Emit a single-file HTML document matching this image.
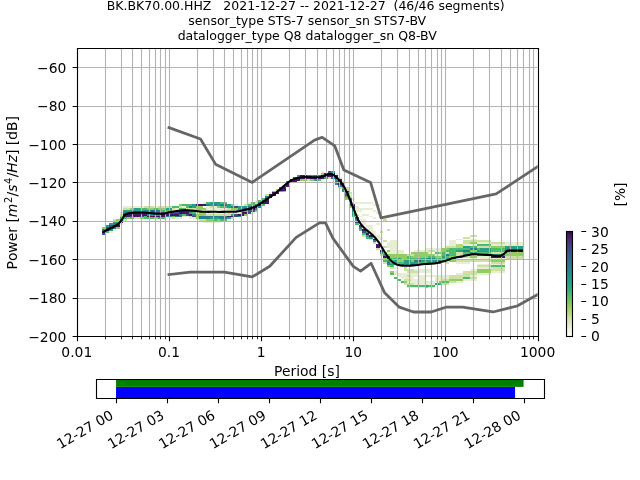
<!DOCTYPE html><html><head><meta charset="utf-8"><style>html,body{margin:0;padding:0;background:#fff}svg{display:block;will-change:transform}text{font-family:"DejaVu Sans","Liberation Sans",sans-serif;fill:#000}</style></head><body>
<svg width="640" height="480" viewBox="0 0 640 480">
<rect width="640" height="480" fill="#fff"/>
<defs><clipPath id="ax"><rect x="76.8" y="48" width="460.8" height="288"/></clipPath></defs>
<g shape-rendering="crispEdges">
<rect x="102" y="233" width="4" height="2" fill="#3c4f8a"/>
<rect x="102" y="231" width="4" height="2" fill="#461466"/>
<rect x="102" y="229" width="4" height="2" fill="#277f8d"/>
<rect x="102" y="227" width="4" height="2" fill="#91cd60"/>
<rect x="106" y="231" width="3" height="2" fill="#4cbb6c"/>
<rect x="106" y="229" width="3" height="2" fill="#461466"/>
<rect x="106" y="227" width="3" height="2" fill="#3c4f8a"/>
<rect x="106" y="225" width="3" height="2" fill="#259f85"/>
<rect x="109" y="231" width="4" height="2" fill="#e6eed3"/>
<rect x="109" y="229" width="4" height="2" fill="#259f85"/>
<rect x="109" y="227" width="4" height="2" fill="#461466"/>
<rect x="109" y="225" width="4" height="2" fill="#3c4f8a"/>
<rect x="109" y="223" width="4" height="2" fill="#259f85"/>
<rect x="113" y="229" width="3" height="2" fill="#e6eed3"/>
<rect x="113" y="227" width="3" height="2" fill="#277f8d"/>
<rect x="113" y="225" width="3" height="2" fill="#461466"/>
<rect x="113" y="223" width="3" height="2" fill="#277f8d"/>
<rect x="113" y="221" width="3" height="2" fill="#259f85"/>
<rect x="113" y="219" width="3" height="2" fill="#cde1a5"/>
<rect x="116" y="227" width="4" height="2" fill="#91cd60"/>
<rect x="116" y="225" width="4" height="2" fill="#461466"/>
<rect x="116" y="223" width="4" height="2" fill="#3c4f8a"/>
<rect x="116" y="221" width="4" height="2" fill="#259f85"/>
<rect x="116" y="219" width="4" height="2" fill="#91cd60"/>
<rect x="120" y="223" width="3" height="2" fill="#e6eed3"/>
<rect x="120" y="221" width="3" height="2" fill="#461466"/>
<rect x="120" y="219" width="3" height="2" fill="#277f8d"/>
<rect x="120" y="217" width="3" height="2" fill="#259f85"/>
<rect x="120" y="216" width="3" height="1" fill="#91cd60"/>
<rect x="120" y="214" width="3" height="2" fill="#cde1a5"/>
<rect x="120" y="212" width="3" height="2" fill="#e6eed3"/>
<rect x="123" y="219" width="4" height="2" fill="#cde1a5"/>
<rect x="123" y="217" width="4" height="2" fill="#4cbb6c"/>
<rect x="123" y="216" width="4" height="1" fill="#461466"/>
<rect x="123" y="214" width="4" height="2" fill="#461466"/>
<rect x="123" y="212" width="4" height="2" fill="#277f8d"/>
<rect x="123" y="210" width="4" height="2" fill="#259f85"/>
<rect x="123" y="208" width="4" height="2" fill="#cde1a5"/>
<rect x="123" y="206" width="4" height="2" fill="#e6eed3"/>
<rect x="127" y="217" width="3" height="2" fill="#91cd60"/>
<rect x="127" y="216" width="3" height="1" fill="#461466"/>
<rect x="127" y="214" width="3" height="2" fill="#461466"/>
<rect x="127" y="212" width="3" height="2" fill="#277f8d"/>
<rect x="127" y="210" width="3" height="2" fill="#259f85"/>
<rect x="127" y="208" width="3" height="2" fill="#cde1a5"/>
<rect x="127" y="206" width="3" height="2" fill="#e6eed3"/>
<rect x="130" y="217" width="4" height="2" fill="#4cbb6c"/>
<rect x="130" y="216" width="4" height="1" fill="#3c4f8a"/>
<rect x="130" y="214" width="4" height="2" fill="#461466"/>
<rect x="130" y="212" width="4" height="2" fill="#259f85"/>
<rect x="130" y="210" width="4" height="2" fill="#259f85"/>
<rect x="130" y="208" width="4" height="2" fill="#91cd60"/>
<rect x="130" y="206" width="4" height="2" fill="#e6eed3"/>
<rect x="134" y="217" width="3" height="2" fill="#cde1a5"/>
<rect x="134" y="216" width="3" height="1" fill="#461466"/>
<rect x="134" y="214" width="3" height="2" fill="#461466"/>
<rect x="134" y="212" width="3" height="2" fill="#277f8d"/>
<rect x="134" y="210" width="3" height="2" fill="#259f85"/>
<rect x="134" y="208" width="3" height="2" fill="#259f85"/>
<rect x="134" y="206" width="3" height="2" fill="#e6eed3"/>
<rect x="137" y="217" width="3" height="2" fill="#cde1a5"/>
<rect x="137" y="216" width="3" height="1" fill="#461466"/>
<rect x="137" y="214" width="3" height="2" fill="#461466"/>
<rect x="137" y="212" width="3" height="2" fill="#277f8d"/>
<rect x="137" y="210" width="3" height="2" fill="#259f85"/>
<rect x="137" y="208" width="3" height="2" fill="#259f85"/>
<rect x="137" y="206" width="3" height="2" fill="#e6eed3"/>
<rect x="140" y="217" width="4" height="2" fill="#91cd60"/>
<rect x="140" y="216" width="4" height="1" fill="#3c4f8a"/>
<rect x="140" y="214" width="4" height="2" fill="#461466"/>
<rect x="140" y="212" width="4" height="2" fill="#277f8d"/>
<rect x="140" y="210" width="4" height="2" fill="#259f85"/>
<rect x="140" y="208" width="4" height="2" fill="#4cbb6c"/>
<rect x="140" y="206" width="4" height="2" fill="#e6eed3"/>
<rect x="144" y="217" width="3" height="2" fill="#4cbb6c"/>
<rect x="144" y="216" width="3" height="1" fill="#4cbb6c"/>
<rect x="144" y="214" width="3" height="2" fill="#461466"/>
<rect x="144" y="212" width="3" height="2" fill="#3c4f8a"/>
<rect x="144" y="210" width="3" height="2" fill="#277f8d"/>
<rect x="144" y="208" width="3" height="2" fill="#4cbb6c"/>
<rect x="144" y="206" width="3" height="2" fill="#cde1a5"/>
<rect x="147" y="217" width="4" height="2" fill="#4cbb6c"/>
<rect x="147" y="216" width="4" height="1" fill="#461466"/>
<rect x="147" y="214" width="4" height="2" fill="#277f8d"/>
<rect x="147" y="212" width="4" height="2" fill="#3c4f8a"/>
<rect x="147" y="210" width="4" height="2" fill="#277f8d"/>
<rect x="147" y="208" width="4" height="2" fill="#91cd60"/>
<rect x="147" y="206" width="4" height="2" fill="#cde1a5"/>
<rect x="151" y="217" width="3" height="2" fill="#4cbb6c"/>
<rect x="151" y="216" width="3" height="1" fill="#461466"/>
<rect x="151" y="214" width="3" height="2" fill="#259f85"/>
<rect x="151" y="212" width="3" height="2" fill="#3c4f8a"/>
<rect x="151" y="210" width="3" height="2" fill="#3c4f8a"/>
<rect x="151" y="208" width="3" height="2" fill="#91cd60"/>
<rect x="151" y="206" width="3" height="2" fill="#cde1a5"/>
<rect x="154" y="217" width="4" height="2" fill="#91cd60"/>
<rect x="154" y="216" width="4" height="1" fill="#461466"/>
<rect x="154" y="214" width="4" height="2" fill="#259f85"/>
<rect x="154" y="212" width="4" height="2" fill="#3c4f8a"/>
<rect x="154" y="210" width="4" height="2" fill="#277f8d"/>
<rect x="154" y="208" width="4" height="2" fill="#4cbb6c"/>
<rect x="154" y="206" width="4" height="2" fill="#e6eed3"/>
<rect x="158" y="217" width="3" height="2" fill="#259f85"/>
<rect x="158" y="216" width="3" height="1" fill="#461466"/>
<rect x="158" y="214" width="3" height="2" fill="#259f85"/>
<rect x="158" y="212" width="3" height="2" fill="#3c4f8a"/>
<rect x="158" y="210" width="3" height="2" fill="#277f8d"/>
<rect x="158" y="208" width="3" height="2" fill="#91cd60"/>
<rect x="158" y="206" width="3" height="2" fill="#cde1a5"/>
<rect x="161" y="217" width="4" height="2" fill="#4cbb6c"/>
<rect x="161" y="216" width="4" height="1" fill="#461466"/>
<rect x="161" y="214" width="4" height="2" fill="#461466"/>
<rect x="161" y="212" width="4" height="2" fill="#3c4f8a"/>
<rect x="161" y="210" width="4" height="2" fill="#4cbb6c"/>
<rect x="161" y="208" width="4" height="2" fill="#91cd60"/>
<rect x="161" y="206" width="4" height="2" fill="#cde1a5"/>
<rect x="165" y="217" width="3" height="2" fill="#e6eed3"/>
<rect x="165" y="216" width="3" height="1" fill="#277f8d"/>
<rect x="165" y="214" width="3" height="2" fill="#461466"/>
<rect x="165" y="212" width="3" height="2" fill="#3c4f8a"/>
<rect x="165" y="210" width="3" height="2" fill="#4cbb6c"/>
<rect x="165" y="208" width="3" height="2" fill="#259f85"/>
<rect x="165" y="206" width="3" height="2" fill="#cde1a5"/>
<rect x="168" y="217" width="4" height="2" fill="#e6eed3"/>
<rect x="168" y="216" width="4" height="1" fill="#277f8d"/>
<rect x="168" y="214" width="4" height="2" fill="#461466"/>
<rect x="168" y="212" width="4" height="2" fill="#3c4f8a"/>
<rect x="168" y="210" width="4" height="2" fill="#4cbb6c"/>
<rect x="168" y="208" width="4" height="2" fill="#259f85"/>
<rect x="168" y="206" width="4" height="2" fill="#cde1a5"/>
<rect x="172" y="217" width="3" height="2" fill="#cde1a5"/>
<rect x="172" y="216" width="3" height="1" fill="#4cbb6c"/>
<rect x="172" y="214" width="3" height="2" fill="#461466"/>
<rect x="172" y="212" width="3" height="2" fill="#3c4f8a"/>
<rect x="172" y="210" width="3" height="2" fill="#e6eed3"/>
<rect x="172" y="208" width="3" height="2" fill="#cde1a5"/>
<rect x="172" y="206" width="3" height="2" fill="#4cbb6c"/>
<rect x="175" y="217" width="4" height="2" fill="#e6eed3"/>
<rect x="175" y="216" width="4" height="1" fill="#277f8d"/>
<rect x="175" y="214" width="4" height="2" fill="#461466"/>
<rect x="175" y="212" width="4" height="2" fill="#3c4f8a"/>
<rect x="175" y="210" width="4" height="2" fill="#e6eed3"/>
<rect x="175" y="208" width="4" height="2" fill="#e6eed3"/>
<rect x="175" y="206" width="4" height="2" fill="#4cbb6c"/>
<rect x="179" y="217" width="3" height="2" fill="#e6eed3"/>
<rect x="179" y="216" width="3" height="1" fill="#277f8d"/>
<rect x="179" y="214" width="3" height="2" fill="#277f8d"/>
<rect x="179" y="212" width="3" height="2" fill="#461466"/>
<rect x="179" y="210" width="3" height="2" fill="#3c4f8a"/>
<rect x="179" y="208" width="3" height="2" fill="#4cbb6c"/>
<rect x="179" y="206" width="3" height="2" fill="#cde1a5"/>
<rect x="179" y="204" width="3" height="2" fill="#91cd60"/>
<rect x="182" y="216" width="4" height="1" fill="#e6eed3"/>
<rect x="182" y="214" width="4" height="2" fill="#4cbb6c"/>
<rect x="182" y="212" width="4" height="2" fill="#461466"/>
<rect x="182" y="210" width="4" height="2" fill="#3c4f8a"/>
<rect x="182" y="208" width="4" height="2" fill="#4cbb6c"/>
<rect x="182" y="206" width="4" height="2" fill="#e6eed3"/>
<rect x="182" y="204" width="4" height="2" fill="#4cbb6c"/>
<rect x="186" y="216" width="3" height="1" fill="#e6eed3"/>
<rect x="186" y="214" width="3" height="2" fill="#3c4f8a"/>
<rect x="186" y="212" width="3" height="2" fill="#461466"/>
<rect x="186" y="210" width="3" height="2" fill="#3c4f8a"/>
<rect x="186" y="208" width="3" height="2" fill="#cde1a5"/>
<rect x="186" y="206" width="3" height="2" fill="#4cbb6c"/>
<rect x="186" y="204" width="3" height="2" fill="#4cbb6c"/>
<rect x="189" y="217" width="3" height="2" fill="#e6eed3"/>
<rect x="189" y="216" width="3" height="1" fill="#cde1a5"/>
<rect x="189" y="214" width="3" height="2" fill="#461466"/>
<rect x="189" y="212" width="3" height="2" fill="#259f85"/>
<rect x="189" y="210" width="3" height="2" fill="#3c4f8a"/>
<rect x="189" y="208" width="3" height="2" fill="#cde1a5"/>
<rect x="189" y="206" width="3" height="2" fill="#277f8d"/>
<rect x="189" y="204" width="3" height="2" fill="#4cbb6c"/>
<rect x="192" y="217" width="4" height="2" fill="#e6eed3"/>
<rect x="192" y="216" width="4" height="1" fill="#3c4f8a"/>
<rect x="192" y="214" width="4" height="2" fill="#277f8d"/>
<rect x="192" y="212" width="4" height="2" fill="#4cbb6c"/>
<rect x="192" y="210" width="4" height="2" fill="#277f8d"/>
<rect x="192" y="208" width="4" height="2" fill="#cde1a5"/>
<rect x="192" y="206" width="4" height="2" fill="#259f85"/>
<rect x="192" y="204" width="4" height="2" fill="#259f85"/>
<rect x="196" y="217" width="3" height="2" fill="#91cd60"/>
<rect x="196" y="216" width="3" height="1" fill="#91cd60"/>
<rect x="196" y="214" width="3" height="2" fill="#91cd60"/>
<rect x="196" y="212" width="3" height="2" fill="#e6eed3"/>
<rect x="196" y="210" width="3" height="2" fill="#e6eed3"/>
<rect x="196" y="208" width="3" height="2" fill="#91cd60"/>
<rect x="196" y="206" width="3" height="2" fill="#91cd60"/>
<rect x="196" y="204" width="3" height="2" fill="#461466"/>
<rect x="199" y="219" width="4" height="2" fill="#cde1a5"/>
<rect x="199" y="217" width="4" height="2" fill="#277f8d"/>
<rect x="199" y="216" width="4" height="1" fill="#277f8d"/>
<rect x="199" y="214" width="4" height="2" fill="#91cd60"/>
<rect x="199" y="212" width="4" height="2" fill="#91cd60"/>
<rect x="199" y="210" width="4" height="2" fill="#e6eed3"/>
<rect x="199" y="208" width="4" height="2" fill="#91cd60"/>
<rect x="199" y="206" width="4" height="2" fill="#91cd60"/>
<rect x="199" y="204" width="4" height="2" fill="#461466"/>
<rect x="203" y="221" width="3" height="2" fill="#e6eed3"/>
<rect x="203" y="219" width="3" height="2" fill="#cde1a5"/>
<rect x="203" y="217" width="3" height="2" fill="#277f8d"/>
<rect x="203" y="216" width="3" height="1" fill="#277f8d"/>
<rect x="203" y="214" width="3" height="2" fill="#91cd60"/>
<rect x="203" y="212" width="3" height="2" fill="#91cd60"/>
<rect x="203" y="210" width="3" height="2" fill="#e6eed3"/>
<rect x="203" y="208" width="3" height="2" fill="#91cd60"/>
<rect x="203" y="204" width="3" height="2" fill="#461466"/>
<rect x="203" y="202" width="3" height="2" fill="#e6eed3"/>
<rect x="206" y="221" width="4" height="2" fill="#e6eed3"/>
<rect x="206" y="219" width="4" height="2" fill="#91cd60"/>
<rect x="206" y="217" width="4" height="2" fill="#277f8d"/>
<rect x="206" y="216" width="4" height="1" fill="#277f8d"/>
<rect x="206" y="214" width="4" height="2" fill="#cde1a5"/>
<rect x="206" y="212" width="4" height="2" fill="#e6eed3"/>
<rect x="206" y="210" width="4" height="2" fill="#e6eed3"/>
<rect x="206" y="208" width="4" height="2" fill="#e6eed3"/>
<rect x="206" y="206" width="4" height="2" fill="#e6eed3"/>
<rect x="206" y="204" width="4" height="2" fill="#277f8d"/>
<rect x="206" y="202" width="4" height="2" fill="#4cbb6c"/>
<rect x="210" y="221" width="3" height="2" fill="#e6eed3"/>
<rect x="210" y="219" width="3" height="2" fill="#91cd60"/>
<rect x="210" y="217" width="3" height="2" fill="#259f85"/>
<rect x="210" y="216" width="3" height="1" fill="#277f8d"/>
<rect x="210" y="214" width="3" height="2" fill="#cde1a5"/>
<rect x="210" y="212" width="3" height="2" fill="#e6eed3"/>
<rect x="210" y="210" width="3" height="2" fill="#e6eed3"/>
<rect x="210" y="208" width="3" height="2" fill="#e6eed3"/>
<rect x="210" y="206" width="3" height="2" fill="#cde1a5"/>
<rect x="210" y="204" width="3" height="2" fill="#259f85"/>
<rect x="210" y="202" width="3" height="2" fill="#259f85"/>
<rect x="213" y="221" width="4" height="2" fill="#e6eed3"/>
<rect x="213" y="219" width="4" height="2" fill="#4cbb6c"/>
<rect x="213" y="217" width="4" height="2" fill="#259f85"/>
<rect x="213" y="216" width="4" height="1" fill="#277f8d"/>
<rect x="213" y="214" width="4" height="2" fill="#cde1a5"/>
<rect x="213" y="212" width="4" height="2" fill="#e6eed3"/>
<rect x="213" y="210" width="4" height="2" fill="#e6eed3"/>
<rect x="213" y="208" width="4" height="2" fill="#e6eed3"/>
<rect x="213" y="206" width="4" height="2" fill="#e6eed3"/>
<rect x="213" y="204" width="4" height="2" fill="#277f8d"/>
<rect x="213" y="202" width="4" height="2" fill="#259f85"/>
<rect x="217" y="221" width="3" height="2" fill="#e6eed3"/>
<rect x="217" y="219" width="3" height="2" fill="#91cd60"/>
<rect x="217" y="217" width="3" height="2" fill="#259f85"/>
<rect x="217" y="216" width="3" height="1" fill="#277f8d"/>
<rect x="217" y="214" width="3" height="2" fill="#cde1a5"/>
<rect x="217" y="212" width="3" height="2" fill="#e6eed3"/>
<rect x="217" y="210" width="3" height="2" fill="#e6eed3"/>
<rect x="217" y="208" width="3" height="2" fill="#e6eed3"/>
<rect x="217" y="206" width="3" height="2" fill="#91cd60"/>
<rect x="217" y="204" width="3" height="2" fill="#259f85"/>
<rect x="217" y="202" width="3" height="2" fill="#259f85"/>
<rect x="220" y="219" width="4" height="2" fill="#4cbb6c"/>
<rect x="220" y="217" width="4" height="2" fill="#277f8d"/>
<rect x="220" y="216" width="4" height="1" fill="#277f8d"/>
<rect x="220" y="214" width="4" height="2" fill="#cde1a5"/>
<rect x="220" y="212" width="4" height="2" fill="#e6eed3"/>
<rect x="220" y="210" width="4" height="2" fill="#e6eed3"/>
<rect x="220" y="208" width="4" height="2" fill="#e6eed3"/>
<rect x="220" y="206" width="4" height="2" fill="#4cbb6c"/>
<rect x="220" y="204" width="4" height="2" fill="#277f8d"/>
<rect x="220" y="202" width="4" height="2" fill="#4cbb6c"/>
<rect x="224" y="219" width="3" height="2" fill="#4cbb6c"/>
<rect x="224" y="217" width="3" height="2" fill="#277f8d"/>
<rect x="224" y="216" width="3" height="1" fill="#277f8d"/>
<rect x="224" y="214" width="3" height="2" fill="#cde1a5"/>
<rect x="224" y="212" width="3" height="2" fill="#e6eed3"/>
<rect x="224" y="210" width="3" height="2" fill="#e6eed3"/>
<rect x="224" y="208" width="3" height="2" fill="#e6eed3"/>
<rect x="224" y="206" width="3" height="2" fill="#4cbb6c"/>
<rect x="224" y="204" width="3" height="2" fill="#277f8d"/>
<rect x="224" y="202" width="3" height="2" fill="#4cbb6c"/>
<rect x="227" y="219" width="4" height="2" fill="#e6eed3"/>
<rect x="227" y="217" width="4" height="2" fill="#259f85"/>
<rect x="227" y="216" width="4" height="1" fill="#461466"/>
<rect x="227" y="214" width="4" height="2" fill="#cde1a5"/>
<rect x="227" y="212" width="4" height="2" fill="#cde1a5"/>
<rect x="227" y="210" width="4" height="2" fill="#cde1a5"/>
<rect x="227" y="208" width="4" height="2" fill="#cde1a5"/>
<rect x="227" y="206" width="4" height="2" fill="#259f85"/>
<rect x="227" y="204" width="4" height="2" fill="#259f85"/>
<rect x="231" y="217" width="3" height="2" fill="#cde1a5"/>
<rect x="231" y="216" width="3" height="1" fill="#461466"/>
<rect x="231" y="214" width="3" height="2" fill="#259f85"/>
<rect x="231" y="212" width="3" height="2" fill="#e6eed3"/>
<rect x="231" y="210" width="3" height="2" fill="#cde1a5"/>
<rect x="231" y="208" width="3" height="2" fill="#91cd60"/>
<rect x="231" y="206" width="3" height="2" fill="#277f8d"/>
<rect x="231" y="204" width="3" height="2" fill="#91cd60"/>
<rect x="234" y="216" width="4" height="1" fill="#3c4f8a"/>
<rect x="234" y="214" width="4" height="2" fill="#3c4f8a"/>
<rect x="234" y="212" width="4" height="2" fill="#e6eed3"/>
<rect x="234" y="210" width="4" height="2" fill="#cde1a5"/>
<rect x="234" y="208" width="4" height="2" fill="#91cd60"/>
<rect x="234" y="206" width="4" height="2" fill="#3c4f8a"/>
<rect x="234" y="204" width="4" height="2" fill="#e6eed3"/>
<rect x="238" y="216" width="3" height="1" fill="#259f85"/>
<rect x="238" y="214" width="3" height="2" fill="#461466"/>
<rect x="238" y="212" width="3" height="2" fill="#e6eed3"/>
<rect x="238" y="210" width="3" height="2" fill="#277f8d"/>
<rect x="238" y="208" width="3" height="2" fill="#259f85"/>
<rect x="238" y="206" width="3" height="2" fill="#259f85"/>
<rect x="241" y="214" width="3" height="2" fill="#461466"/>
<rect x="241" y="212" width="3" height="2" fill="#461466"/>
<rect x="241" y="210" width="3" height="2" fill="#259f85"/>
<rect x="241" y="208" width="3" height="2" fill="#277f8d"/>
<rect x="241" y="206" width="3" height="2" fill="#259f85"/>
<rect x="244" y="214" width="4" height="2" fill="#91cd60"/>
<rect x="244" y="212" width="4" height="2" fill="#461466"/>
<rect x="244" y="210" width="4" height="2" fill="#4cbb6c"/>
<rect x="244" y="208" width="4" height="2" fill="#3c4f8a"/>
<rect x="244" y="206" width="4" height="2" fill="#259f85"/>
<rect x="244" y="204" width="4" height="2" fill="#cde1a5"/>
<rect x="248" y="212" width="3" height="2" fill="#3c4f8a"/>
<rect x="248" y="210" width="3" height="2" fill="#3c4f8a"/>
<rect x="248" y="208" width="3" height="2" fill="#461466"/>
<rect x="248" y="206" width="3" height="2" fill="#277f8d"/>
<rect x="248" y="204" width="3" height="2" fill="#4cbb6c"/>
<rect x="248" y="202" width="3" height="2" fill="#e6eed3"/>
<rect x="251" y="212" width="4" height="2" fill="#e6eed3"/>
<rect x="251" y="210" width="4" height="2" fill="#3c4f8a"/>
<rect x="251" y="208" width="4" height="2" fill="#461466"/>
<rect x="251" y="206" width="4" height="2" fill="#461466"/>
<rect x="251" y="204" width="4" height="2" fill="#4cbb6c"/>
<rect x="251" y="202" width="4" height="2" fill="#4cbb6c"/>
<rect x="255" y="210" width="3" height="2" fill="#91cd60"/>
<rect x="255" y="208" width="3" height="2" fill="#277f8d"/>
<rect x="255" y="206" width="3" height="2" fill="#461466"/>
<rect x="255" y="204" width="3" height="2" fill="#259f85"/>
<rect x="255" y="202" width="3" height="2" fill="#cde1a5"/>
<rect x="255" y="200" width="3" height="2" fill="#e6eed3"/>
<rect x="258" y="206" width="4" height="2" fill="#277f8d"/>
<rect x="258" y="204" width="4" height="2" fill="#461466"/>
<rect x="258" y="202" width="4" height="2" fill="#277f8d"/>
<rect x="258" y="200" width="4" height="2" fill="#4cbb6c"/>
<rect x="262" y="204" width="3" height="2" fill="#4cbb6c"/>
<rect x="262" y="202" width="3" height="2" fill="#461466"/>
<rect x="262" y="200" width="3" height="2" fill="#3c4f8a"/>
<rect x="262" y="198" width="3" height="2" fill="#4cbb6c"/>
<rect x="265" y="202" width="4" height="2" fill="#461466"/>
<rect x="265" y="200" width="4" height="2" fill="#461466"/>
<rect x="265" y="198" width="4" height="2" fill="#461466"/>
<rect x="265" y="196" width="4" height="2" fill="#277f8d"/>
<rect x="265" y="194" width="4" height="2" fill="#cde1a5"/>
<rect x="269" y="196" width="3" height="2" fill="#461466"/>
<rect x="269" y="194" width="3" height="2" fill="#461466"/>
<rect x="269" y="192" width="3" height="2" fill="#e6eed3"/>
<rect x="272" y="194" width="4" height="2" fill="#461466"/>
<rect x="272" y="192" width="4" height="2" fill="#461466"/>
<rect x="272" y="191" width="4" height="1" fill="#91cd60"/>
<rect x="276" y="192" width="3" height="2" fill="#461466"/>
<rect x="276" y="191" width="3" height="1" fill="#461466"/>
<rect x="276" y="189" width="3" height="2" fill="#91cd60"/>
<rect x="279" y="191" width="4" height="1" fill="#4cbb6c"/>
<rect x="279" y="189" width="4" height="2" fill="#461466"/>
<rect x="279" y="187" width="4" height="2" fill="#277f8d"/>
<rect x="283" y="191" width="3" height="1" fill="#91cd60"/>
<rect x="283" y="189" width="3" height="2" fill="#461466"/>
<rect x="283" y="187" width="3" height="2" fill="#461466"/>
<rect x="283" y="185" width="3" height="2" fill="#277f8d"/>
<rect x="286" y="185" width="4" height="2" fill="#461466"/>
<rect x="286" y="183" width="4" height="2" fill="#461466"/>
<rect x="286" y="181" width="4" height="2" fill="#259f85"/>
<rect x="290" y="181" width="3" height="2" fill="#461466"/>
<rect x="290" y="179" width="3" height="2" fill="#3c4f8a"/>
<rect x="293" y="181" width="4" height="2" fill="#461466"/>
<rect x="293" y="179" width="4" height="2" fill="#461466"/>
<rect x="293" y="177" width="4" height="2" fill="#3c4f8a"/>
<rect x="297" y="179" width="3" height="2" fill="#461466"/>
<rect x="297" y="177" width="3" height="2" fill="#461466"/>
<rect x="297" y="175" width="3" height="2" fill="#259f85"/>
<rect x="300" y="179" width="3" height="2" fill="#91cd60"/>
<rect x="300" y="177" width="3" height="2" fill="#461466"/>
<rect x="300" y="175" width="3" height="2" fill="#461466"/>
<rect x="303" y="179" width="4" height="2" fill="#91cd60"/>
<rect x="303" y="177" width="4" height="2" fill="#461466"/>
<rect x="303" y="175" width="4" height="2" fill="#461466"/>
<rect x="307" y="179" width="3" height="2" fill="#cde1a5"/>
<rect x="307" y="177" width="3" height="2" fill="#461466"/>
<rect x="307" y="175" width="3" height="2" fill="#277f8d"/>
<rect x="310" y="179" width="4" height="2" fill="#91cd60"/>
<rect x="310" y="177" width="4" height="2" fill="#461466"/>
<rect x="310" y="175" width="4" height="2" fill="#259f85"/>
<rect x="314" y="179" width="3" height="2" fill="#259f85"/>
<rect x="314" y="177" width="3" height="2" fill="#461466"/>
<rect x="314" y="175" width="3" height="2" fill="#277f8d"/>
<rect x="317" y="179" width="4" height="2" fill="#4cbb6c"/>
<rect x="317" y="177" width="4" height="2" fill="#461466"/>
<rect x="317" y="175" width="4" height="2" fill="#277f8d"/>
<rect x="321" y="179" width="3" height="2" fill="#e6eed3"/>
<rect x="321" y="177" width="3" height="2" fill="#461466"/>
<rect x="321" y="175" width="3" height="2" fill="#461466"/>
<rect x="321" y="173" width="3" height="2" fill="#91cd60"/>
<rect x="321" y="171" width="3" height="2" fill="#e6eed3"/>
<rect x="324" y="177" width="4" height="2" fill="#259f85"/>
<rect x="324" y="175" width="4" height="2" fill="#461466"/>
<rect x="324" y="173" width="4" height="2" fill="#461466"/>
<rect x="328" y="177" width="3" height="2" fill="#cde1a5"/>
<rect x="328" y="175" width="3" height="2" fill="#461466"/>
<rect x="328" y="173" width="3" height="2" fill="#461466"/>
<rect x="328" y="171" width="3" height="2" fill="#3c4f8a"/>
<rect x="331" y="177" width="4" height="2" fill="#277f8d"/>
<rect x="331" y="175" width="4" height="2" fill="#461466"/>
<rect x="331" y="173" width="4" height="2" fill="#461466"/>
<rect x="331" y="171" width="4" height="2" fill="#259f85"/>
<rect x="335" y="183" width="3" height="2" fill="#277f8d"/>
<rect x="335" y="181" width="3" height="2" fill="#277f8d"/>
<rect x="335" y="179" width="3" height="2" fill="#259f85"/>
<rect x="335" y="177" width="3" height="2" fill="#461466"/>
<rect x="335" y="175" width="3" height="2" fill="#461466"/>
<rect x="335" y="173" width="3" height="2" fill="#e6eed3"/>
<rect x="338" y="187" width="4" height="2" fill="#cde1a5"/>
<rect x="338" y="185" width="4" height="2" fill="#277f8d"/>
<rect x="338" y="183" width="4" height="2" fill="#461466"/>
<rect x="338" y="181" width="4" height="2" fill="#461466"/>
<rect x="338" y="179" width="4" height="2" fill="#461466"/>
<rect x="338" y="177" width="4" height="2" fill="#e6eed3"/>
<rect x="342" y="191" width="3" height="1" fill="#259f85"/>
<rect x="342" y="189" width="3" height="2" fill="#277f8d"/>
<rect x="342" y="187" width="3" height="2" fill="#4cbb6c"/>
<rect x="342" y="185" width="3" height="2" fill="#461466"/>
<rect x="342" y="183" width="3" height="2" fill="#461466"/>
<rect x="342" y="181" width="3" height="2" fill="#cde1a5"/>
<rect x="345" y="198" width="4" height="2" fill="#91cd60"/>
<rect x="345" y="196" width="4" height="2" fill="#4cbb6c"/>
<rect x="345" y="194" width="4" height="2" fill="#3c4f8a"/>
<rect x="345" y="192" width="4" height="2" fill="#259f85"/>
<rect x="345" y="191" width="4" height="1" fill="#461466"/>
<rect x="345" y="189" width="4" height="2" fill="#cde1a5"/>
<rect x="345" y="187" width="4" height="2" fill="#cde1a5"/>
<rect x="349" y="206" width="3" height="2" fill="#91cd60"/>
<rect x="349" y="204" width="3" height="2" fill="#3c4f8a"/>
<rect x="349" y="202" width="3" height="2" fill="#277f8d"/>
<rect x="349" y="200" width="3" height="2" fill="#277f8d"/>
<rect x="349" y="198" width="3" height="2" fill="#277f8d"/>
<rect x="349" y="196" width="3" height="2" fill="#cde1a5"/>
<rect x="349" y="194" width="3" height="2" fill="#e6eed3"/>
<rect x="349" y="192" width="3" height="2" fill="#cde1a5"/>
<rect x="352" y="216" width="3" height="1" fill="#4cbb6c"/>
<rect x="352" y="214" width="3" height="2" fill="#259f85"/>
<rect x="352" y="212" width="3" height="2" fill="#259f85"/>
<rect x="352" y="210" width="3" height="2" fill="#277f8d"/>
<rect x="352" y="208" width="3" height="2" fill="#277f8d"/>
<rect x="352" y="206" width="3" height="2" fill="#461466"/>
<rect x="352" y="204" width="3" height="2" fill="#461466"/>
<rect x="352" y="198" width="3" height="2" fill="#e6eed3"/>
<rect x="355" y="223" width="4" height="2" fill="#4cbb6c"/>
<rect x="355" y="221" width="4" height="2" fill="#3c4f8a"/>
<rect x="355" y="219" width="4" height="2" fill="#259f85"/>
<rect x="355" y="217" width="4" height="2" fill="#3c4f8a"/>
<rect x="355" y="214" width="4" height="2" fill="#cde1a5"/>
<rect x="355" y="210" width="4" height="2" fill="#e6eed3"/>
<rect x="355" y="208" width="4" height="2" fill="#e6eed3"/>
<rect x="355" y="206" width="4" height="2" fill="#e6eed3"/>
<rect x="355" y="202" width="4" height="2" fill="#e6eed3"/>
<rect x="359" y="229" width="3" height="2" fill="#4cbb6c"/>
<rect x="359" y="227" width="3" height="2" fill="#277f8d"/>
<rect x="359" y="225" width="3" height="2" fill="#3c4f8a"/>
<rect x="359" y="219" width="3" height="2" fill="#e6eed3"/>
<rect x="359" y="216" width="3" height="1" fill="#e6eed3"/>
<rect x="359" y="210" width="3" height="2" fill="#e6eed3"/>
<rect x="359" y="208" width="3" height="2" fill="#e6eed3"/>
<rect x="359" y="202" width="3" height="2" fill="#e6eed3"/>
<rect x="362" y="235" width="4" height="2" fill="#cde1a5"/>
<rect x="362" y="233" width="4" height="2" fill="#4cbb6c"/>
<rect x="362" y="231" width="4" height="2" fill="#3c4f8a"/>
<rect x="362" y="229" width="4" height="2" fill="#461466"/>
<rect x="362" y="223" width="4" height="2" fill="#e6eed3"/>
<rect x="362" y="221" width="4" height="2" fill="#e6eed3"/>
<rect x="362" y="219" width="4" height="2" fill="#e6eed3"/>
<rect x="362" y="214" width="4" height="2" fill="#e6eed3"/>
<rect x="362" y="208" width="4" height="2" fill="#e6eed3"/>
<rect x="362" y="202" width="4" height="2" fill="#e6eed3"/>
<rect x="366" y="237" width="3" height="2" fill="#4cbb6c"/>
<rect x="366" y="235" width="3" height="2" fill="#259f85"/>
<rect x="366" y="233" width="3" height="2" fill="#461466"/>
<rect x="366" y="231" width="3" height="2" fill="#259f85"/>
<rect x="366" y="229" width="3" height="2" fill="#e6eed3"/>
<rect x="366" y="227" width="3" height="2" fill="#e6eed3"/>
<rect x="366" y="225" width="3" height="2" fill="#e6eed3"/>
<rect x="366" y="214" width="3" height="2" fill="#e6eed3"/>
<rect x="366" y="208" width="3" height="2" fill="#e6eed3"/>
<rect x="366" y="202" width="3" height="2" fill="#e6eed3"/>
<rect x="369" y="239" width="4" height="1" fill="#cde1a5"/>
<rect x="369" y="237" width="4" height="2" fill="#259f85"/>
<rect x="369" y="235" width="4" height="2" fill="#461466"/>
<rect x="369" y="233" width="4" height="2" fill="#e6eed3"/>
<rect x="369" y="231" width="4" height="2" fill="#e6eed3"/>
<rect x="369" y="229" width="4" height="2" fill="#e6eed3"/>
<rect x="369" y="227" width="4" height="2" fill="#e6eed3"/>
<rect x="369" y="225" width="4" height="2" fill="#e6eed3"/>
<rect x="369" y="216" width="4" height="1" fill="#e6eed3"/>
<rect x="369" y="208" width="4" height="2" fill="#e6eed3"/>
<rect x="369" y="202" width="4" height="2" fill="#e6eed3"/>
<rect x="373" y="242" width="3" height="2" fill="#cde1a5"/>
<rect x="373" y="240" width="3" height="2" fill="#277f8d"/>
<rect x="373" y="239" width="3" height="1" fill="#461466"/>
<rect x="373" y="237" width="3" height="2" fill="#e6eed3"/>
<rect x="373" y="235" width="3" height="2" fill="#e6eed3"/>
<rect x="373" y="233" width="3" height="2" fill="#e6eed3"/>
<rect x="373" y="231" width="3" height="2" fill="#e6eed3"/>
<rect x="373" y="217" width="3" height="2" fill="#e6eed3"/>
<rect x="373" y="210" width="3" height="2" fill="#e6eed3"/>
<rect x="373" y="204" width="3" height="2" fill="#e6eed3"/>
<rect x="376" y="248" width="4" height="2" fill="#cde1a5"/>
<rect x="376" y="246" width="4" height="2" fill="#461466"/>
<rect x="376" y="244" width="4" height="2" fill="#461466"/>
<rect x="376" y="237" width="4" height="2" fill="#e6eed3"/>
<rect x="376" y="235" width="4" height="2" fill="#e6eed3"/>
<rect x="376" y="223" width="4" height="2" fill="#e6eed3"/>
<rect x="376" y="212" width="4" height="2" fill="#e6eed3"/>
<rect x="376" y="204" width="4" height="2" fill="#e6eed3"/>
<rect x="380" y="254" width="3" height="2" fill="#cde1a5"/>
<rect x="380" y="252" width="3" height="2" fill="#259f85"/>
<rect x="380" y="250" width="3" height="2" fill="#461466"/>
<rect x="380" y="239" width="3" height="1" fill="#e6eed3"/>
<rect x="380" y="237" width="3" height="2" fill="#e6eed3"/>
<rect x="380" y="231" width="3" height="2" fill="#cde1a5"/>
<rect x="383" y="262" width="4" height="2" fill="#cde1a5"/>
<rect x="383" y="260" width="4" height="2" fill="#4cbb6c"/>
<rect x="383" y="258" width="4" height="2" fill="#91cd60"/>
<rect x="383" y="256" width="4" height="2" fill="#461466"/>
<rect x="383" y="254" width="4" height="2" fill="#259f85"/>
<rect x="383" y="252" width="4" height="2" fill="#91cd60"/>
<rect x="383" y="246" width="4" height="2" fill="#cde1a5"/>
<rect x="383" y="240" width="4" height="2" fill="#cde1a5"/>
<rect x="383" y="219" width="4" height="2" fill="#cde1a5"/>
<rect x="387" y="265" width="3" height="2" fill="#91cd60"/>
<rect x="387" y="264" width="3" height="1" fill="#277f8d"/>
<rect x="387" y="262" width="3" height="2" fill="#277f8d"/>
<rect x="387" y="260" width="3" height="2" fill="#259f85"/>
<rect x="387" y="258" width="3" height="2" fill="#461466"/>
<rect x="387" y="256" width="3" height="2" fill="#3c4f8a"/>
<rect x="387" y="254" width="3" height="2" fill="#91cd60"/>
<rect x="387" y="252" width="3" height="2" fill="#e6eed3"/>
<rect x="387" y="250" width="3" height="2" fill="#91cd60"/>
<rect x="387" y="246" width="3" height="2" fill="#e6eed3"/>
<rect x="387" y="244" width="3" height="2" fill="#e6eed3"/>
<rect x="387" y="242" width="3" height="2" fill="#e6eed3"/>
<rect x="387" y="229" width="3" height="2" fill="#cde1a5"/>
<rect x="390" y="273" width="4" height="2" fill="#4cbb6c"/>
<rect x="390" y="271" width="4" height="2" fill="#91cd60"/>
<rect x="390" y="267" width="4" height="2" fill="#cde1a5"/>
<rect x="390" y="265" width="4" height="2" fill="#4cbb6c"/>
<rect x="390" y="264" width="4" height="1" fill="#259f85"/>
<rect x="390" y="262" width="4" height="2" fill="#4cbb6c"/>
<rect x="390" y="260" width="4" height="2" fill="#4cbb6c"/>
<rect x="390" y="258" width="4" height="2" fill="#4cbb6c"/>
<rect x="390" y="256" width="4" height="2" fill="#91cd60"/>
<rect x="390" y="254" width="4" height="2" fill="#91cd60"/>
<rect x="390" y="252" width="4" height="2" fill="#e6eed3"/>
<rect x="390" y="250" width="4" height="2" fill="#e6eed3"/>
<rect x="390" y="248" width="4" height="2" fill="#e6eed3"/>
<rect x="390" y="246" width="4" height="2" fill="#e6eed3"/>
<rect x="390" y="244" width="4" height="2" fill="#e6eed3"/>
<rect x="390" y="242" width="4" height="2" fill="#e6eed3"/>
<rect x="390" y="240" width="4" height="2" fill="#e6eed3"/>
<rect x="394" y="277" width="3" height="2" fill="#4cbb6c"/>
<rect x="394" y="273" width="3" height="2" fill="#e6eed3"/>
<rect x="394" y="271" width="3" height="2" fill="#e6eed3"/>
<rect x="394" y="267" width="3" height="2" fill="#e6eed3"/>
<rect x="394" y="264" width="3" height="1" fill="#259f85"/>
<rect x="394" y="262" width="3" height="2" fill="#259f85"/>
<rect x="394" y="260" width="3" height="2" fill="#259f85"/>
<rect x="394" y="258" width="3" height="2" fill="#4cbb6c"/>
<rect x="394" y="256" width="3" height="2" fill="#91cd60"/>
<rect x="394" y="254" width="3" height="2" fill="#91cd60"/>
<rect x="394" y="252" width="3" height="2" fill="#e6eed3"/>
<rect x="394" y="250" width="3" height="2" fill="#e6eed3"/>
<rect x="394" y="248" width="3" height="2" fill="#e6eed3"/>
<rect x="394" y="246" width="3" height="2" fill="#e6eed3"/>
<rect x="394" y="244" width="3" height="2" fill="#e6eed3"/>
<rect x="394" y="242" width="3" height="2" fill="#e6eed3"/>
<rect x="394" y="240" width="3" height="2" fill="#e6eed3"/>
<rect x="397" y="279" width="4" height="2" fill="#4cbb6c"/>
<rect x="397" y="275" width="4" height="2" fill="#e6eed3"/>
<rect x="397" y="273" width="4" height="2" fill="#e6eed3"/>
<rect x="397" y="264" width="4" height="1" fill="#259f85"/>
<rect x="397" y="262" width="4" height="2" fill="#4cbb6c"/>
<rect x="397" y="260" width="4" height="2" fill="#91cd60"/>
<rect x="397" y="258" width="4" height="2" fill="#259f85"/>
<rect x="397" y="256" width="4" height="2" fill="#91cd60"/>
<rect x="397" y="254" width="4" height="2" fill="#91cd60"/>
<rect x="397" y="252" width="4" height="2" fill="#e6eed3"/>
<rect x="397" y="250" width="4" height="2" fill="#e6eed3"/>
<rect x="401" y="281" width="3" height="2" fill="#4cbb6c"/>
<rect x="401" y="277" width="3" height="2" fill="#e6eed3"/>
<rect x="401" y="275" width="3" height="2" fill="#e6eed3"/>
<rect x="401" y="273" width="3" height="2" fill="#e6eed3"/>
<rect x="401" y="264" width="3" height="1" fill="#259f85"/>
<rect x="401" y="262" width="3" height="2" fill="#4cbb6c"/>
<rect x="401" y="260" width="3" height="2" fill="#91cd60"/>
<rect x="401" y="258" width="3" height="2" fill="#91cd60"/>
<rect x="401" y="256" width="3" height="2" fill="#91cd60"/>
<rect x="401" y="254" width="3" height="2" fill="#91cd60"/>
<rect x="401" y="252" width="3" height="2" fill="#e6eed3"/>
<rect x="401" y="250" width="3" height="2" fill="#e6eed3"/>
<rect x="404" y="283" width="3" height="2" fill="#cde1a5"/>
<rect x="404" y="281" width="3" height="2" fill="#91cd60"/>
<rect x="404" y="279" width="3" height="2" fill="#cde1a5"/>
<rect x="404" y="277" width="3" height="2" fill="#e6eed3"/>
<rect x="404" y="275" width="3" height="2" fill="#e6eed3"/>
<rect x="404" y="273" width="3" height="2" fill="#e6eed3"/>
<rect x="404" y="269" width="3" height="2" fill="#cde1a5"/>
<rect x="404" y="267" width="3" height="2" fill="#cde1a5"/>
<rect x="404" y="264" width="3" height="1" fill="#259f85"/>
<rect x="404" y="262" width="3" height="2" fill="#259f85"/>
<rect x="404" y="260" width="3" height="2" fill="#259f85"/>
<rect x="404" y="258" width="3" height="2" fill="#91cd60"/>
<rect x="404" y="256" width="3" height="2" fill="#91cd60"/>
<rect x="404" y="254" width="3" height="2" fill="#91cd60"/>
<rect x="407" y="287" width="4" height="1" fill="#e6eed3"/>
<rect x="407" y="285" width="4" height="2" fill="#4cbb6c"/>
<rect x="407" y="283" width="4" height="2" fill="#cde1a5"/>
<rect x="407" y="281" width="4" height="2" fill="#e6eed3"/>
<rect x="407" y="279" width="4" height="2" fill="#cde1a5"/>
<rect x="407" y="277" width="4" height="2" fill="#e6eed3"/>
<rect x="407" y="275" width="4" height="2" fill="#cde1a5"/>
<rect x="407" y="273" width="4" height="2" fill="#e6eed3"/>
<rect x="407" y="271" width="4" height="2" fill="#cde1a5"/>
<rect x="407" y="269" width="4" height="2" fill="#cde1a5"/>
<rect x="407" y="264" width="4" height="1" fill="#259f85"/>
<rect x="407" y="262" width="4" height="2" fill="#259f85"/>
<rect x="407" y="260" width="4" height="2" fill="#259f85"/>
<rect x="407" y="258" width="4" height="2" fill="#4cbb6c"/>
<rect x="407" y="256" width="4" height="2" fill="#4cbb6c"/>
<rect x="407" y="254" width="4" height="2" fill="#cde1a5"/>
<rect x="411" y="287" width="3" height="1" fill="#e6eed3"/>
<rect x="411" y="285" width="3" height="2" fill="#4cbb6c"/>
<rect x="411" y="283" width="3" height="2" fill="#cde1a5"/>
<rect x="411" y="281" width="3" height="2" fill="#e6eed3"/>
<rect x="411" y="279" width="3" height="2" fill="#e6eed3"/>
<rect x="411" y="277" width="3" height="2" fill="#e6eed3"/>
<rect x="411" y="275" width="3" height="2" fill="#e6eed3"/>
<rect x="411" y="273" width="3" height="2" fill="#e6eed3"/>
<rect x="411" y="271" width="3" height="2" fill="#cde1a5"/>
<rect x="411" y="269" width="3" height="2" fill="#cde1a5"/>
<rect x="411" y="264" width="3" height="1" fill="#259f85"/>
<rect x="411" y="262" width="3" height="2" fill="#259f85"/>
<rect x="411" y="260" width="3" height="2" fill="#91cd60"/>
<rect x="411" y="258" width="3" height="2" fill="#4cbb6c"/>
<rect x="411" y="256" width="3" height="2" fill="#91cd60"/>
<rect x="411" y="254" width="3" height="2" fill="#cde1a5"/>
<rect x="411" y="252" width="3" height="2" fill="#91cd60"/>
<rect x="414" y="287" width="4" height="1" fill="#e6eed3"/>
<rect x="414" y="285" width="4" height="2" fill="#4cbb6c"/>
<rect x="414" y="283" width="4" height="2" fill="#e6eed3"/>
<rect x="414" y="281" width="4" height="2" fill="#e6eed3"/>
<rect x="414" y="279" width="4" height="2" fill="#e6eed3"/>
<rect x="414" y="275" width="4" height="2" fill="#e6eed3"/>
<rect x="414" y="273" width="4" height="2" fill="#e6eed3"/>
<rect x="414" y="271" width="4" height="2" fill="#cde1a5"/>
<rect x="414" y="269" width="4" height="2" fill="#e6eed3"/>
<rect x="414" y="264" width="4" height="1" fill="#259f85"/>
<rect x="414" y="262" width="4" height="2" fill="#259f85"/>
<rect x="414" y="260" width="4" height="2" fill="#277f8d"/>
<rect x="414" y="258" width="4" height="2" fill="#4cbb6c"/>
<rect x="414" y="256" width="4" height="2" fill="#91cd60"/>
<rect x="414" y="254" width="4" height="2" fill="#91cd60"/>
<rect x="414" y="252" width="4" height="2" fill="#91cd60"/>
<rect x="414" y="250" width="4" height="2" fill="#e6eed3"/>
<rect x="418" y="287" width="3" height="1" fill="#e6eed3"/>
<rect x="418" y="285" width="3" height="2" fill="#4cbb6c"/>
<rect x="418" y="283" width="3" height="2" fill="#e6eed3"/>
<rect x="418" y="281" width="3" height="2" fill="#e6eed3"/>
<rect x="418" y="279" width="3" height="2" fill="#e6eed3"/>
<rect x="418" y="277" width="3" height="2" fill="#e6eed3"/>
<rect x="418" y="275" width="3" height="2" fill="#e6eed3"/>
<rect x="418" y="271" width="3" height="2" fill="#e6eed3"/>
<rect x="418" y="269" width="3" height="2" fill="#e6eed3"/>
<rect x="418" y="264" width="3" height="1" fill="#259f85"/>
<rect x="418" y="262" width="3" height="2" fill="#4cbb6c"/>
<rect x="418" y="260" width="3" height="2" fill="#3c4f8a"/>
<rect x="418" y="258" width="3" height="2" fill="#4cbb6c"/>
<rect x="418" y="256" width="3" height="2" fill="#91cd60"/>
<rect x="418" y="254" width="3" height="2" fill="#91cd60"/>
<rect x="418" y="252" width="3" height="2" fill="#91cd60"/>
<rect x="418" y="250" width="3" height="2" fill="#e6eed3"/>
<rect x="421" y="287" width="4" height="1" fill="#e6eed3"/>
<rect x="421" y="285" width="4" height="2" fill="#4cbb6c"/>
<rect x="421" y="283" width="4" height="2" fill="#e6eed3"/>
<rect x="421" y="281" width="4" height="2" fill="#e6eed3"/>
<rect x="421" y="279" width="4" height="2" fill="#e6eed3"/>
<rect x="421" y="277" width="4" height="2" fill="#e6eed3"/>
<rect x="421" y="275" width="4" height="2" fill="#e6eed3"/>
<rect x="421" y="271" width="4" height="2" fill="#e6eed3"/>
<rect x="421" y="269" width="4" height="2" fill="#e6eed3"/>
<rect x="421" y="264" width="4" height="1" fill="#259f85"/>
<rect x="421" y="262" width="4" height="2" fill="#4cbb6c"/>
<rect x="421" y="260" width="4" height="2" fill="#259f85"/>
<rect x="421" y="258" width="4" height="2" fill="#259f85"/>
<rect x="421" y="256" width="4" height="2" fill="#91cd60"/>
<rect x="421" y="254" width="4" height="2" fill="#91cd60"/>
<rect x="421" y="252" width="4" height="2" fill="#91cd60"/>
<rect x="421" y="250" width="4" height="2" fill="#e6eed3"/>
<rect x="425" y="287" width="3" height="1" fill="#91cd60"/>
<rect x="425" y="285" width="3" height="2" fill="#259f85"/>
<rect x="425" y="283" width="3" height="2" fill="#e6eed3"/>
<rect x="425" y="281" width="3" height="2" fill="#e6eed3"/>
<rect x="425" y="275" width="3" height="2" fill="#e6eed3"/>
<rect x="425" y="271" width="3" height="2" fill="#e6eed3"/>
<rect x="425" y="269" width="3" height="2" fill="#e6eed3"/>
<rect x="425" y="262" width="3" height="2" fill="#4cbb6c"/>
<rect x="425" y="260" width="3" height="2" fill="#259f85"/>
<rect x="425" y="258" width="3" height="2" fill="#259f85"/>
<rect x="425" y="256" width="3" height="2" fill="#91cd60"/>
<rect x="425" y="254" width="3" height="2" fill="#91cd60"/>
<rect x="425" y="252" width="3" height="2" fill="#91cd60"/>
<rect x="425" y="250" width="3" height="2" fill="#e6eed3"/>
<rect x="425" y="248" width="3" height="2" fill="#e6eed3"/>
<rect x="428" y="287" width="4" height="1" fill="#e6eed3"/>
<rect x="428" y="285" width="4" height="2" fill="#4cbb6c"/>
<rect x="428" y="283" width="4" height="2" fill="#e6eed3"/>
<rect x="428" y="281" width="4" height="2" fill="#e6eed3"/>
<rect x="428" y="275" width="4" height="2" fill="#e6eed3"/>
<rect x="428" y="271" width="4" height="2" fill="#e6eed3"/>
<rect x="428" y="269" width="4" height="2" fill="#e6eed3"/>
<rect x="428" y="262" width="4" height="2" fill="#4cbb6c"/>
<rect x="428" y="260" width="4" height="2" fill="#259f85"/>
<rect x="428" y="258" width="4" height="2" fill="#277f8d"/>
<rect x="428" y="256" width="4" height="2" fill="#4cbb6c"/>
<rect x="428" y="254" width="4" height="2" fill="#91cd60"/>
<rect x="428" y="252" width="4" height="2" fill="#e6eed3"/>
<rect x="428" y="250" width="4" height="2" fill="#cde1a5"/>
<rect x="428" y="248" width="4" height="2" fill="#e6eed3"/>
<rect x="432" y="287" width="3" height="1" fill="#e6eed3"/>
<rect x="432" y="285" width="3" height="2" fill="#4cbb6c"/>
<rect x="432" y="283" width="3" height="2" fill="#e6eed3"/>
<rect x="432" y="281" width="3" height="2" fill="#e6eed3"/>
<rect x="432" y="275" width="3" height="2" fill="#e6eed3"/>
<rect x="432" y="262" width="3" height="2" fill="#4cbb6c"/>
<rect x="432" y="260" width="3" height="2" fill="#259f85"/>
<rect x="432" y="258" width="3" height="2" fill="#277f8d"/>
<rect x="432" y="256" width="3" height="2" fill="#4cbb6c"/>
<rect x="432" y="254" width="3" height="2" fill="#91cd60"/>
<rect x="432" y="250" width="3" height="2" fill="#cde1a5"/>
<rect x="432" y="248" width="3" height="2" fill="#e6eed3"/>
<rect x="435" y="283" width="4" height="2" fill="#259f85"/>
<rect x="435" y="281" width="4" height="2" fill="#e6eed3"/>
<rect x="435" y="279" width="4" height="2" fill="#e6eed3"/>
<rect x="435" y="277" width="4" height="2" fill="#e6eed3"/>
<rect x="435" y="275" width="4" height="2" fill="#e6eed3"/>
<rect x="435" y="262" width="4" height="2" fill="#4cbb6c"/>
<rect x="435" y="260" width="4" height="2" fill="#277f8d"/>
<rect x="435" y="258" width="4" height="2" fill="#4cbb6c"/>
<rect x="435" y="256" width="4" height="2" fill="#91cd60"/>
<rect x="435" y="254" width="4" height="2" fill="#e6eed3"/>
<rect x="435" y="252" width="4" height="2" fill="#4cbb6c"/>
<rect x="435" y="250" width="4" height="2" fill="#e6eed3"/>
<rect x="435" y="248" width="4" height="2" fill="#e6eed3"/>
<rect x="439" y="283" width="3" height="2" fill="#4cbb6c"/>
<rect x="439" y="281" width="3" height="2" fill="#91cd60"/>
<rect x="439" y="279" width="3" height="2" fill="#e6eed3"/>
<rect x="439" y="277" width="3" height="2" fill="#e6eed3"/>
<rect x="439" y="275" width="3" height="2" fill="#e6eed3"/>
<rect x="439" y="262" width="3" height="2" fill="#259f85"/>
<rect x="439" y="260" width="3" height="2" fill="#277f8d"/>
<rect x="439" y="258" width="3" height="2" fill="#4cbb6c"/>
<rect x="439" y="256" width="3" height="2" fill="#91cd60"/>
<rect x="439" y="254" width="3" height="2" fill="#e6eed3"/>
<rect x="439" y="252" width="3" height="2" fill="#91cd60"/>
<rect x="439" y="250" width="3" height="2" fill="#e6eed3"/>
<rect x="439" y="248" width="3" height="2" fill="#e6eed3"/>
<rect x="442" y="283" width="4" height="2" fill="#cde1a5"/>
<rect x="442" y="281" width="4" height="2" fill="#4cbb6c"/>
<rect x="442" y="279" width="4" height="2" fill="#cde1a5"/>
<rect x="442" y="277" width="4" height="2" fill="#e6eed3"/>
<rect x="442" y="275" width="4" height="2" fill="#e6eed3"/>
<rect x="442" y="260" width="4" height="2" fill="#259f85"/>
<rect x="442" y="258" width="4" height="2" fill="#4cbb6c"/>
<rect x="442" y="256" width="4" height="2" fill="#259f85"/>
<rect x="442" y="254" width="4" height="2" fill="#4cbb6c"/>
<rect x="442" y="252" width="4" height="2" fill="#4cbb6c"/>
<rect x="442" y="250" width="4" height="2" fill="#91cd60"/>
<rect x="442" y="248" width="4" height="2" fill="#91cd60"/>
<rect x="446" y="283" width="3" height="2" fill="#cde1a5"/>
<rect x="446" y="281" width="3" height="2" fill="#4cbb6c"/>
<rect x="446" y="279" width="3" height="2" fill="#cde1a5"/>
<rect x="446" y="277" width="3" height="2" fill="#e6eed3"/>
<rect x="446" y="275" width="3" height="2" fill="#e6eed3"/>
<rect x="446" y="262" width="3" height="2" fill="#cde1a5"/>
<rect x="446" y="258" width="3" height="2" fill="#259f85"/>
<rect x="446" y="256" width="3" height="2" fill="#4cbb6c"/>
<rect x="446" y="254" width="3" height="2" fill="#277f8d"/>
<rect x="446" y="252" width="3" height="2" fill="#cde1a5"/>
<rect x="446" y="250" width="3" height="2" fill="#4cbb6c"/>
<rect x="446" y="248" width="3" height="2" fill="#91cd60"/>
<rect x="446" y="246" width="3" height="2" fill="#cde1a5"/>
<rect x="449" y="281" width="4" height="2" fill="#cde1a5"/>
<rect x="449" y="279" width="4" height="2" fill="#91cd60"/>
<rect x="449" y="277" width="4" height="2" fill="#cde1a5"/>
<rect x="449" y="275" width="4" height="2" fill="#cde1a5"/>
<rect x="449" y="260" width="4" height="2" fill="#91cd60"/>
<rect x="449" y="258" width="4" height="2" fill="#259f85"/>
<rect x="449" y="256" width="4" height="2" fill="#91cd60"/>
<rect x="449" y="254" width="4" height="2" fill="#4cbb6c"/>
<rect x="449" y="252" width="4" height="2" fill="#4cbb6c"/>
<rect x="449" y="250" width="4" height="2" fill="#4cbb6c"/>
<rect x="449" y="248" width="4" height="2" fill="#4cbb6c"/>
<rect x="449" y="246" width="4" height="2" fill="#cde1a5"/>
<rect x="449" y="244" width="4" height="2" fill="#e6eed3"/>
<rect x="449" y="242" width="4" height="2" fill="#e6eed3"/>
<rect x="449" y="240" width="4" height="2" fill="#e6eed3"/>
<rect x="453" y="281" width="3" height="2" fill="#cde1a5"/>
<rect x="453" y="279" width="3" height="2" fill="#91cd60"/>
<rect x="453" y="277" width="3" height="2" fill="#cde1a5"/>
<rect x="453" y="275" width="3" height="2" fill="#cde1a5"/>
<rect x="453" y="260" width="3" height="2" fill="#91cd60"/>
<rect x="453" y="258" width="3" height="2" fill="#259f85"/>
<rect x="453" y="256" width="3" height="2" fill="#91cd60"/>
<rect x="453" y="254" width="3" height="2" fill="#4cbb6c"/>
<rect x="453" y="252" width="3" height="2" fill="#4cbb6c"/>
<rect x="453" y="250" width="3" height="2" fill="#4cbb6c"/>
<rect x="453" y="248" width="3" height="2" fill="#4cbb6c"/>
<rect x="453" y="246" width="3" height="2" fill="#cde1a5"/>
<rect x="453" y="244" width="3" height="2" fill="#e6eed3"/>
<rect x="453" y="242" width="3" height="2" fill="#e6eed3"/>
<rect x="453" y="240" width="3" height="2" fill="#e6eed3"/>
<rect x="456" y="281" width="3" height="2" fill="#e6eed3"/>
<rect x="456" y="279" width="3" height="2" fill="#91cd60"/>
<rect x="456" y="277" width="3" height="2" fill="#cde1a5"/>
<rect x="456" y="275" width="3" height="2" fill="#cde1a5"/>
<rect x="456" y="273" width="3" height="2" fill="#e6eed3"/>
<rect x="456" y="262" width="3" height="2" fill="#e6eed3"/>
<rect x="456" y="260" width="3" height="2" fill="#cde1a5"/>
<rect x="456" y="256" width="3" height="2" fill="#259f85"/>
<rect x="456" y="254" width="3" height="2" fill="#cde1a5"/>
<rect x="456" y="252" width="3" height="2" fill="#cde1a5"/>
<rect x="456" y="250" width="3" height="2" fill="#259f85"/>
<rect x="456" y="248" width="3" height="2" fill="#4cbb6c"/>
<rect x="456" y="246" width="3" height="2" fill="#b3d77e"/>
<rect x="456" y="244" width="3" height="2" fill="#b3d77e"/>
<rect x="456" y="239" width="3" height="1" fill="#e6eed3"/>
<rect x="459" y="281" width="4" height="2" fill="#e6eed3"/>
<rect x="459" y="279" width="4" height="2" fill="#91cd60"/>
<rect x="459" y="277" width="4" height="2" fill="#cde1a5"/>
<rect x="459" y="275" width="4" height="2" fill="#cde1a5"/>
<rect x="459" y="273" width="4" height="2" fill="#e6eed3"/>
<rect x="459" y="262" width="4" height="2" fill="#e6eed3"/>
<rect x="459" y="260" width="4" height="2" fill="#cde1a5"/>
<rect x="459" y="256" width="4" height="2" fill="#259f85"/>
<rect x="459" y="254" width="4" height="2" fill="#cde1a5"/>
<rect x="459" y="252" width="4" height="2" fill="#cde1a5"/>
<rect x="459" y="250" width="4" height="2" fill="#259f85"/>
<rect x="459" y="248" width="4" height="2" fill="#4cbb6c"/>
<rect x="459" y="246" width="4" height="2" fill="#b3d77e"/>
<rect x="459" y="244" width="4" height="2" fill="#b3d77e"/>
<rect x="459" y="239" width="4" height="1" fill="#e6eed3"/>
<rect x="463" y="279" width="3" height="2" fill="#e6eed3"/>
<rect x="463" y="277" width="3" height="2" fill="#4cbb6c"/>
<rect x="463" y="275" width="3" height="2" fill="#cde1a5"/>
<rect x="463" y="273" width="3" height="2" fill="#cde1a5"/>
<rect x="463" y="271" width="3" height="2" fill="#cde1a5"/>
<rect x="463" y="262" width="3" height="2" fill="#e6eed3"/>
<rect x="463" y="260" width="3" height="2" fill="#cde1a5"/>
<rect x="463" y="256" width="3" height="2" fill="#cde1a5"/>
<rect x="463" y="254" width="3" height="2" fill="#259f85"/>
<rect x="463" y="252" width="3" height="2" fill="#4cbb6c"/>
<rect x="463" y="250" width="3" height="2" fill="#277f8d"/>
<rect x="463" y="248" width="3" height="2" fill="#4cbb6c"/>
<rect x="463" y="246" width="3" height="2" fill="#259f85"/>
<rect x="463" y="244" width="3" height="2" fill="#e6eed3"/>
<rect x="463" y="242" width="3" height="2" fill="#cde1a5"/>
<rect x="463" y="240" width="3" height="2" fill="#cde1a5"/>
<rect x="463" y="237" width="3" height="2" fill="#cde1a5"/>
<rect x="466" y="279" width="4" height="2" fill="#e6eed3"/>
<rect x="466" y="277" width="4" height="2" fill="#4cbb6c"/>
<rect x="466" y="275" width="4" height="2" fill="#cde1a5"/>
<rect x="466" y="273" width="4" height="2" fill="#cde1a5"/>
<rect x="466" y="271" width="4" height="2" fill="#cde1a5"/>
<rect x="466" y="262" width="4" height="2" fill="#e6eed3"/>
<rect x="466" y="260" width="4" height="2" fill="#cde1a5"/>
<rect x="466" y="256" width="4" height="2" fill="#cde1a5"/>
<rect x="466" y="254" width="4" height="2" fill="#259f85"/>
<rect x="466" y="252" width="4" height="2" fill="#4cbb6c"/>
<rect x="466" y="250" width="4" height="2" fill="#277f8d"/>
<rect x="466" y="248" width="4" height="2" fill="#4cbb6c"/>
<rect x="466" y="246" width="4" height="2" fill="#259f85"/>
<rect x="466" y="244" width="4" height="2" fill="#e6eed3"/>
<rect x="466" y="242" width="4" height="2" fill="#cde1a5"/>
<rect x="466" y="240" width="4" height="2" fill="#cde1a5"/>
<rect x="466" y="237" width="4" height="2" fill="#cde1a5"/>
<rect x="470" y="279" width="3" height="2" fill="#e6eed3"/>
<rect x="470" y="277" width="3" height="2" fill="#cde1a5"/>
<rect x="470" y="275" width="3" height="2" fill="#e6eed3"/>
<rect x="470" y="273" width="3" height="2" fill="#cde1a5"/>
<rect x="470" y="271" width="3" height="2" fill="#cde1a5"/>
<rect x="470" y="269" width="3" height="2" fill="#e6eed3"/>
<rect x="470" y="260" width="3" height="2" fill="#cde1a5"/>
<rect x="470" y="258" width="3" height="2" fill="#e6eed3"/>
<rect x="470" y="256" width="3" height="2" fill="#91cd60"/>
<rect x="470" y="254" width="3" height="2" fill="#cde1a5"/>
<rect x="470" y="252" width="3" height="2" fill="#259f85"/>
<rect x="470" y="250" width="3" height="2" fill="#91cd60"/>
<rect x="470" y="248" width="3" height="2" fill="#277f8d"/>
<rect x="470" y="246" width="3" height="2" fill="#4cbb6c"/>
<rect x="470" y="244" width="3" height="2" fill="#e6eed3"/>
<rect x="470" y="242" width="3" height="2" fill="#91cd60"/>
<rect x="470" y="240" width="3" height="2" fill="#cde1a5"/>
<rect x="470" y="239" width="3" height="1" fill="#e6eed3"/>
<rect x="470" y="235" width="3" height="2" fill="#cde1a5"/>
<rect x="473" y="279" width="4" height="2" fill="#e6eed3"/>
<rect x="473" y="277" width="4" height="2" fill="#cde1a5"/>
<rect x="473" y="275" width="4" height="2" fill="#e6eed3"/>
<rect x="473" y="273" width="4" height="2" fill="#cde1a5"/>
<rect x="473" y="271" width="4" height="2" fill="#cde1a5"/>
<rect x="473" y="269" width="4" height="2" fill="#e6eed3"/>
<rect x="473" y="260" width="4" height="2" fill="#cde1a5"/>
<rect x="473" y="258" width="4" height="2" fill="#e6eed3"/>
<rect x="473" y="256" width="4" height="2" fill="#91cd60"/>
<rect x="473" y="254" width="4" height="2" fill="#cde1a5"/>
<rect x="473" y="252" width="4" height="2" fill="#259f85"/>
<rect x="473" y="250" width="4" height="2" fill="#91cd60"/>
<rect x="473" y="248" width="4" height="2" fill="#277f8d"/>
<rect x="473" y="246" width="4" height="2" fill="#4cbb6c"/>
<rect x="473" y="244" width="4" height="2" fill="#e6eed3"/>
<rect x="473" y="242" width="4" height="2" fill="#91cd60"/>
<rect x="473" y="240" width="4" height="2" fill="#cde1a5"/>
<rect x="473" y="239" width="4" height="1" fill="#e6eed3"/>
<rect x="473" y="235" width="4" height="2" fill="#cde1a5"/>
<rect x="477" y="273" width="3" height="2" fill="#e6eed3"/>
<rect x="477" y="271" width="3" height="2" fill="#91cd60"/>
<rect x="477" y="269" width="3" height="2" fill="#91cd60"/>
<rect x="477" y="267" width="3" height="2" fill="#e6eed3"/>
<rect x="477" y="265" width="3" height="2" fill="#cde1a5"/>
<rect x="477" y="264" width="3" height="1" fill="#e6eed3"/>
<rect x="477" y="260" width="3" height="2" fill="#cde1a5"/>
<rect x="477" y="256" width="3" height="2" fill="#e6eed3"/>
<rect x="477" y="254" width="3" height="2" fill="#259f85"/>
<rect x="477" y="252" width="3" height="2" fill="#4cbb6c"/>
<rect x="477" y="250" width="3" height="2" fill="#259f85"/>
<rect x="477" y="248" width="3" height="2" fill="#4cbb6c"/>
<rect x="477" y="246" width="3" height="2" fill="#cde1a5"/>
<rect x="477" y="244" width="3" height="2" fill="#4cbb6c"/>
<rect x="477" y="242" width="3" height="2" fill="#e6eed3"/>
<rect x="477" y="240" width="3" height="2" fill="#cde1a5"/>
<rect x="480" y="273" width="4" height="2" fill="#e6eed3"/>
<rect x="480" y="271" width="4" height="2" fill="#91cd60"/>
<rect x="480" y="269" width="4" height="2" fill="#91cd60"/>
<rect x="480" y="267" width="4" height="2" fill="#e6eed3"/>
<rect x="480" y="265" width="4" height="2" fill="#cde1a5"/>
<rect x="480" y="264" width="4" height="1" fill="#e6eed3"/>
<rect x="480" y="260" width="4" height="2" fill="#cde1a5"/>
<rect x="480" y="258" width="4" height="2" fill="#e6eed3"/>
<rect x="480" y="256" width="4" height="2" fill="#e6eed3"/>
<rect x="480" y="254" width="4" height="2" fill="#259f85"/>
<rect x="480" y="252" width="4" height="2" fill="#4cbb6c"/>
<rect x="480" y="250" width="4" height="2" fill="#259f85"/>
<rect x="480" y="248" width="4" height="2" fill="#259f85"/>
<rect x="480" y="246" width="4" height="2" fill="#cde1a5"/>
<rect x="480" y="244" width="4" height="2" fill="#4cbb6c"/>
<rect x="480" y="242" width="4" height="2" fill="#e6eed3"/>
<rect x="480" y="240" width="4" height="2" fill="#cde1a5"/>
<rect x="484" y="273" width="3" height="2" fill="#e6eed3"/>
<rect x="484" y="271" width="3" height="2" fill="#91cd60"/>
<rect x="484" y="269" width="3" height="2" fill="#91cd60"/>
<rect x="484" y="267" width="3" height="2" fill="#e6eed3"/>
<rect x="484" y="265" width="3" height="2" fill="#cde1a5"/>
<rect x="484" y="264" width="3" height="1" fill="#e6eed3"/>
<rect x="484" y="260" width="3" height="2" fill="#cde1a5"/>
<rect x="484" y="258" width="3" height="2" fill="#e6eed3"/>
<rect x="484" y="256" width="3" height="2" fill="#e6eed3"/>
<rect x="484" y="254" width="3" height="2" fill="#259f85"/>
<rect x="484" y="252" width="3" height="2" fill="#4cbb6c"/>
<rect x="484" y="250" width="3" height="2" fill="#259f85"/>
<rect x="484" y="248" width="3" height="2" fill="#259f85"/>
<rect x="484" y="246" width="3" height="2" fill="#cde1a5"/>
<rect x="484" y="244" width="3" height="2" fill="#4cbb6c"/>
<rect x="484" y="242" width="3" height="2" fill="#e6eed3"/>
<rect x="484" y="240" width="3" height="2" fill="#cde1a5"/>
<rect x="487" y="273" width="4" height="2" fill="#e6eed3"/>
<rect x="487" y="271" width="4" height="2" fill="#91cd60"/>
<rect x="487" y="269" width="4" height="2" fill="#91cd60"/>
<rect x="487" y="267" width="4" height="2" fill="#e6eed3"/>
<rect x="487" y="265" width="4" height="2" fill="#cde1a5"/>
<rect x="487" y="264" width="4" height="1" fill="#e6eed3"/>
<rect x="487" y="260" width="4" height="2" fill="#cde1a5"/>
<rect x="487" y="258" width="4" height="2" fill="#e6eed3"/>
<rect x="487" y="256" width="4" height="2" fill="#e6eed3"/>
<rect x="487" y="254" width="4" height="2" fill="#259f85"/>
<rect x="487" y="252" width="4" height="2" fill="#4cbb6c"/>
<rect x="487" y="250" width="4" height="2" fill="#259f85"/>
<rect x="487" y="248" width="4" height="2" fill="#259f85"/>
<rect x="487" y="246" width="4" height="2" fill="#cde1a5"/>
<rect x="487" y="244" width="4" height="2" fill="#4cbb6c"/>
<rect x="487" y="242" width="4" height="2" fill="#e6eed3"/>
<rect x="487" y="240" width="4" height="2" fill="#cde1a5"/>
<rect x="491" y="271" width="3" height="2" fill="#e6eed3"/>
<rect x="491" y="269" width="3" height="2" fill="#cde1a5"/>
<rect x="491" y="267" width="3" height="2" fill="#cde1a5"/>
<rect x="491" y="265" width="3" height="2" fill="#4cbb6c"/>
<rect x="491" y="264" width="3" height="1" fill="#e6eed3"/>
<rect x="491" y="262" width="3" height="2" fill="#cde1a5"/>
<rect x="491" y="260" width="3" height="2" fill="#91cd60"/>
<rect x="491" y="258" width="3" height="2" fill="#e6eed3"/>
<rect x="491" y="256" width="3" height="2" fill="#461466"/>
<rect x="491" y="254" width="3" height="2" fill="#259f85"/>
<rect x="491" y="252" width="3" height="2" fill="#cde1a5"/>
<rect x="491" y="250" width="3" height="2" fill="#4cbb6c"/>
<rect x="491" y="248" width="3" height="2" fill="#4cbb6c"/>
<rect x="491" y="246" width="3" height="2" fill="#91cd60"/>
<rect x="491" y="244" width="3" height="2" fill="#e6eed3"/>
<rect x="491" y="242" width="3" height="2" fill="#cde1a5"/>
<rect x="494" y="271" width="4" height="2" fill="#e6eed3"/>
<rect x="494" y="269" width="4" height="2" fill="#cde1a5"/>
<rect x="494" y="267" width="4" height="2" fill="#cde1a5"/>
<rect x="494" y="265" width="4" height="2" fill="#4cbb6c"/>
<rect x="494" y="264" width="4" height="1" fill="#e6eed3"/>
<rect x="494" y="262" width="4" height="2" fill="#cde1a5"/>
<rect x="494" y="260" width="4" height="2" fill="#91cd60"/>
<rect x="494" y="258" width="4" height="2" fill="#e6eed3"/>
<rect x="494" y="256" width="4" height="2" fill="#461466"/>
<rect x="494" y="254" width="4" height="2" fill="#259f85"/>
<rect x="494" y="252" width="4" height="2" fill="#cde1a5"/>
<rect x="494" y="250" width="4" height="2" fill="#4cbb6c"/>
<rect x="494" y="248" width="4" height="2" fill="#4cbb6c"/>
<rect x="494" y="246" width="4" height="2" fill="#91cd60"/>
<rect x="494" y="244" width="4" height="2" fill="#e6eed3"/>
<rect x="494" y="242" width="4" height="2" fill="#cde1a5"/>
<rect x="498" y="271" width="3" height="2" fill="#e6eed3"/>
<rect x="498" y="269" width="3" height="2" fill="#cde1a5"/>
<rect x="498" y="267" width="3" height="2" fill="#cde1a5"/>
<rect x="498" y="265" width="3" height="2" fill="#4cbb6c"/>
<rect x="498" y="264" width="3" height="1" fill="#e6eed3"/>
<rect x="498" y="262" width="3" height="2" fill="#cde1a5"/>
<rect x="498" y="260" width="3" height="2" fill="#91cd60"/>
<rect x="498" y="258" width="3" height="2" fill="#e6eed3"/>
<rect x="498" y="256" width="3" height="2" fill="#461466"/>
<rect x="498" y="254" width="3" height="2" fill="#259f85"/>
<rect x="498" y="252" width="3" height="2" fill="#cde1a5"/>
<rect x="498" y="250" width="3" height="2" fill="#4cbb6c"/>
<rect x="498" y="248" width="3" height="2" fill="#4cbb6c"/>
<rect x="498" y="246" width="3" height="2" fill="#91cd60"/>
<rect x="498" y="244" width="3" height="2" fill="#e6eed3"/>
<rect x="498" y="242" width="3" height="2" fill="#cde1a5"/>
<rect x="501" y="271" width="4" height="2" fill="#e6eed3"/>
<rect x="501" y="269" width="4" height="2" fill="#cde1a5"/>
<rect x="501" y="267" width="4" height="2" fill="#cde1a5"/>
<rect x="501" y="265" width="4" height="2" fill="#4cbb6c"/>
<rect x="501" y="264" width="4" height="1" fill="#e6eed3"/>
<rect x="501" y="262" width="4" height="2" fill="#cde1a5"/>
<rect x="501" y="260" width="4" height="2" fill="#91cd60"/>
<rect x="501" y="258" width="4" height="2" fill="#e6eed3"/>
<rect x="501" y="256" width="4" height="2" fill="#461466"/>
<rect x="501" y="254" width="4" height="2" fill="#259f85"/>
<rect x="501" y="252" width="4" height="2" fill="#cde1a5"/>
<rect x="501" y="250" width="4" height="2" fill="#4cbb6c"/>
<rect x="501" y="248" width="4" height="2" fill="#4cbb6c"/>
<rect x="501" y="246" width="4" height="2" fill="#91cd60"/>
<rect x="501" y="244" width="4" height="2" fill="#e6eed3"/>
<rect x="501" y="242" width="4" height="2" fill="#cde1a5"/>
<rect x="505" y="258" width="3" height="2" fill="#cde1a5"/>
<rect x="505" y="256" width="3" height="2" fill="#cde1a5"/>
<rect x="505" y="254" width="3" height="2" fill="#91cd60"/>
<rect x="505" y="252" width="3" height="2" fill="#91cd60"/>
<rect x="505" y="250" width="3" height="2" fill="#461466"/>
<rect x="505" y="248" width="3" height="2" fill="#259f85"/>
<rect x="505" y="246" width="3" height="2" fill="#259f85"/>
<rect x="505" y="244" width="3" height="2" fill="#e6eed3"/>
<rect x="505" y="242" width="3" height="2" fill="#e6eed3"/>
<rect x="508" y="258" width="4" height="2" fill="#cde1a5"/>
<rect x="508" y="256" width="4" height="2" fill="#cde1a5"/>
<rect x="508" y="254" width="4" height="2" fill="#91cd60"/>
<rect x="508" y="252" width="4" height="2" fill="#91cd60"/>
<rect x="508" y="250" width="4" height="2" fill="#461466"/>
<rect x="508" y="248" width="4" height="2" fill="#259f85"/>
<rect x="508" y="246" width="4" height="2" fill="#259f85"/>
<rect x="508" y="244" width="4" height="2" fill="#e6eed3"/>
<rect x="508" y="242" width="4" height="2" fill="#e6eed3"/>
<rect x="512" y="258" width="3" height="2" fill="#cde1a5"/>
<rect x="512" y="256" width="3" height="2" fill="#cde1a5"/>
<rect x="512" y="254" width="3" height="2" fill="#91cd60"/>
<rect x="512" y="252" width="3" height="2" fill="#91cd60"/>
<rect x="512" y="250" width="3" height="2" fill="#461466"/>
<rect x="512" y="248" width="3" height="2" fill="#259f85"/>
<rect x="512" y="246" width="3" height="2" fill="#259f85"/>
<rect x="512" y="244" width="3" height="2" fill="#e6eed3"/>
<rect x="512" y="242" width="3" height="2" fill="#e6eed3"/>
<rect x="515" y="258" width="3" height="2" fill="#cde1a5"/>
<rect x="515" y="256" width="3" height="2" fill="#cde1a5"/>
<rect x="515" y="254" width="3" height="2" fill="#91cd60"/>
<rect x="515" y="252" width="3" height="2" fill="#91cd60"/>
<rect x="515" y="250" width="3" height="2" fill="#461466"/>
<rect x="515" y="248" width="3" height="2" fill="#259f85"/>
<rect x="515" y="246" width="3" height="2" fill="#259f85"/>
<rect x="515" y="244" width="3" height="2" fill="#e6eed3"/>
<rect x="515" y="242" width="3" height="2" fill="#e6eed3"/>
<rect x="518" y="258" width="5" height="2" fill="#cde1a5"/>
<rect x="518" y="256" width="5" height="2" fill="#cde1a5"/>
<rect x="518" y="254" width="5" height="2" fill="#91cd60"/>
<rect x="518" y="252" width="5" height="2" fill="#91cd60"/>
<rect x="518" y="250" width="5" height="2" fill="#461466"/>
<rect x="518" y="248" width="5" height="2" fill="#259f85"/>
<rect x="518" y="246" width="5" height="2" fill="#259f85"/>
<rect x="518" y="244" width="5" height="2" fill="#e6eed3"/>
<rect x="518" y="242" width="5" height="2" fill="#e6eed3"/>
</g>
<path d="M77.5 48V336M105.5 48V336M121.5 48V336M132.5 48V336M141.5 48V336M149.5 48V336M155.5 48V336M160.5 48V336M165.5 48V336M169.5 48V336M197.5 48V336M213.5 48V336M224.5 48V336M233.5 48V336M241.5 48V336M247.5 48V336M252.5 48V336M257.5 48V336M261.5 48V336M289.5 48V336M305.5 48V336M317.5 48V336M326.5 48V336M333.5 48V336M339.5 48V336M344.5 48V336M349.5 48V336M353.5 48V336M381.5 48V336M397.5 48V336M409.5 48V336M418.5 48V336M425.5 48V336M431.5 48V336M437.5 48V336M441.5 48V336M445.5 48V336M473.5 48V336M489.5 48V336M501.5 48V336M510.5 48V336M517.5 48V336M523.5 48V336M529.5 48V336M533.5 48V336M538.5 48V336M76.8 336.5H537.6M76.8 298.5H537.6M76.8 259.5H537.6M76.8 221.5H537.6M76.8 182.5H537.6M76.8 144.5H537.6M76.8 106.5H537.6M76.8 67.5H537.6" stroke="#b3b3b3" stroke-width="1.111" fill="none" clip-path="url(#ax)"/>
<polyline points="103.9,231.6 107.38,229.8 110.86,228.26 114.34,226.46 117.83,224.52 121.31,220.59 124.79,214.78 128.27,213.32 131.75,212.84 135.24,212.63 138.72,212.52 142.2,212.59 145.68,212.71 149.16,213.01 152.64,213.41 156.12,213.66 159.61,213.79 163.09,213.76 166.57,213.08 170.05,212.12 173.53,211.44 177.02,211.02 180.5,210.66 183.98,210.38 187.46,210.39 190.94,210.54 194.42,210.91 197.91,211.28 201.39,211.65 204.87,211.81 208.35,211.87 211.83,211.77 215.31,211.77 218.8,211.97 222.28,211.85 225.76,211.71 229.24,211.78 232.72,211.72 236.2,211.6 239.69,211.01 243.17,210.27 246.65,209.43 250.13,208.54 253.61,207.37 257.09,205.62 260.58,203.48 264.06,201.11 267.54,198.74 271.02,196.44 274.5,194.17 277.98,190.96 281.47,188.12 284.95,184.95 288.43,182.13 291.91,180.01 295.39,178.59 298.87,177.78 302.36,177.22 305.84,177.08 309.32,177.04 312.8,177.17 316.28,177.2 319.76,177.03 323.25,176.24 326.73,174.8 330.21,173.97 333.69,174.97 337.17,177.91 340.65,181.62 344.14,186.89 347.62,193.77 351.1,202.25 354.58,211.09 358.06,219.8 361.54,225.02 365.03,228.79 368.51,231.56 371.99,234.45 375.47,238.08 378.95,242.5 382.43,248.19 385.92,253.96 389.4,258.88 392.88,262.39 396.36,264.43 399.84,265.36 403.32,265.65 406.81,265.75 410.29,265.63 413.77,265.35 417.25,265 420.73,264.49 424.21,264.06 427.7,263.89 431.18,263.66 434.66,263.38 438.14,262.65 441.62,261.77 445.1,260.89 448.59,259.82 452.07,258.17 455.55,257.47 459.03,257.04 462.51,256.21 465.99,255.45 469.48,254.75 472.96,254.12 476.44,254.26 479.92,254.54 483.4,254.8 486.88,254.91 490.37,255.07 493.85,255.79 497.33,255.9 500.81,255.9 504.29,253.57 507.77,250.55 511.26,250.42 514.74,250.46 518.22,250.53 521.7,250.6" fill="none" stroke="#000" stroke-width="2.083" stroke-linejoin="round" stroke-linecap="square" clip-path="url(#ax)"/>
<polyline points="168.96,127.68 200.52,139.02 215.51,164.16 252.19,182.4 314.55,140.16 322.2,137.28 334.79,145.92 343.85,169.91 370.56,182.4 381.02,217.91 496.13,193.93 721.92,45.14" fill="none" stroke="#666" stroke-width="2.778" stroke-linejoin="round" stroke-linecap="square" clip-path="url(#ax)"/>
<polyline points="168.96,274.56 190.2,272.06 224.45,272.06 252.19,276.87 269.73,266.3 296.16,237.4 319.5,222.91 325.54,222.9 332.83,238.08 353.28,266.4 360.58,271.19 371.08,263.29 384.66,292.81 399.33,307.19 413.48,312 431.16,312 445.84,307.2 462.72,307.18 492.98,311.98 517.15,306.01 629.76,243.61 721.92,150.01" fill="none" stroke="#666" stroke-width="2.778" stroke-linejoin="round" stroke-linecap="square" clip-path="url(#ax)"/>
<path d="M77.5 336.5V48.5H538.5V336.5Z" fill="none" stroke="#000" stroke-width="1.111" stroke-linejoin="miter" stroke-linecap="square"/>
<path d="M77.5 336.5v4.861M169.5 336.5v4.861M261.5 336.5v4.861M353.5 336.5v4.861M445.5 336.5v4.861M538.5 336.5v4.861M77.5 336.5h-4.861M77.5 298.5h-4.861M77.5 259.5h-4.861M77.5 221.5h-4.861M77.5 182.5h-4.861M77.5 144.5h-4.861M77.5 106.5h-4.861M77.5 67.5h-4.861" stroke="#000" stroke-width="1.111"/>
<path d="M105.5 336.5v2.778M121.5 336.5v2.778M132.5 336.5v2.778M141.5 336.5v2.778M149.5 336.5v2.778M155.5 336.5v2.778M160.5 336.5v2.778M165.5 336.5v2.778M197.5 336.5v2.778M213.5 336.5v2.778M224.5 336.5v2.778M233.5 336.5v2.778M241.5 336.5v2.778M247.5 336.5v2.778M252.5 336.5v2.778M257.5 336.5v2.778M289.5 336.5v2.778M305.5 336.5v2.778M317.5 336.5v2.778M326.5 336.5v2.778M333.5 336.5v2.778M339.5 336.5v2.778M344.5 336.5v2.778M349.5 336.5v2.778M381.5 336.5v2.778M397.5 336.5v2.778M409.5 336.5v2.778M418.5 336.5v2.778M425.5 336.5v2.778M431.5 336.5v2.778M437.5 336.5v2.778M441.5 336.5v2.778M473.5 336.5v2.778M489.5 336.5v2.778M501.5 336.5v2.778M510.5 336.5v2.778M517.5 336.5v2.778M523.5 336.5v2.778M529.5 336.5v2.778M533.5 336.5v2.778" stroke="#000" stroke-width="0.833"/>
<g id="xtick" transform="translate(0 0.25)">
<text x="76.8" y="356.28" style="font-size:13.89px;text-anchor:middle">0.01</text>
<text x="168.96" y="356.28" style="font-size:13.89px;text-anchor:middle">0.1</text>
<text x="261.12" y="356.28" style="font-size:13.89px;text-anchor:middle">1</text>
<text x="353.28" y="356.28" style="font-size:13.89px;text-anchor:middle">10</text>
<text x="445.44" y="356.28" style="font-size:13.89px;text-anchor:middle">100</text>
<text x="537.6" y="356.28" style="font-size:13.89px;text-anchor:middle">1000</text>
</g>
<g id="xlabel" transform="translate(-0.25 0.25)">
<text x="307.2" y="375.27" style="font-size:13.89px;text-anchor:middle">Period [s]</text>
</g>
<g id="ytick" transform="translate(-0.75 0.25)">
<text x="67.08" y="341.28" style="font-size:13.89px;text-anchor:end">−200</text>
<text x="67.08" y="302.88" style="font-size:13.89px;text-anchor:end">−180</text>
<text x="67.08" y="264.48" style="font-size:13.89px;text-anchor:end">−160</text>
<text x="67.08" y="226.08" style="font-size:13.89px;text-anchor:end">−140</text>
<text x="67.08" y="187.68" style="font-size:13.89px;text-anchor:end">−120</text>
<text x="67.08" y="149.28" style="font-size:13.89px;text-anchor:end">−100</text>
<text x="67.08" y="110.88" style="font-size:13.89px;text-anchor:end">−80</text>
<text x="67.08" y="72.48" style="font-size:13.89px;text-anchor:end">−60</text>
</g>
<g id="title1" transform="translate(-1.5 -1.5)">
<text x="108.28" y="11.32" style="font-size:12.5px" xml:space="preserve">BK.BK70.00.HHZ &#160; 2021-12-27 -- 2021-12-27 &#160;(46/46 segments)</text>
</g>
<g id="title2" transform="translate(0 0)">
<text x="188.28" y="25.32" style="font-size:12.5px">sensor_type STS-7 sensor_sn STS7-BV</text>
</g>
<g id="title3" transform="translate(0 0)">
<text x="177.64" y="39.67" style="font-size:12.5px">datalogger_type Q8 datalogger_sn Q8-BV</text>
</g>
<g id="ylabel" transform="translate(-2.25 0.75)">
<g transform="translate(20.48 268.74) rotate(-90)"><text style="font-size:13.89px">
<tspan x="0" y="-1.36">P</tspan>
<tspan x="8.38" y="-1.36">o</tspan>
<tspan x="16.87" y="-1.36">w</tspan>
<tspan x="28.23" y="-1.36">e</tspan>
<tspan x="36.78" y="-1.36">r</tspan>
<tspan x="46.9" y="-1.36">[</tspan>
<tspan x="73.06" y="-1.36">/</tspan>
<tspan x="92.19" y="-1.36">/</tspan>
<tspan x="114.43" y="-1.36">]</tspan>
<tspan x="124.26" y="-1.36">[</tspan>
<tspan x="129.68" y="-1.36">d</tspan>
<tspan x="138.49" y="-1.36">B</tspan>
<tspan x="148.02" y="-1.36">]</tspan>
<tspan x="52.32" y="-1.36" font-style="oblique">m</tspan>
<tspan x="77.74" y="-1.36" font-style="oblique">s</tspan>
<tspan x="96.69" y="-1.36" font-style="oblique">H</tspan>
<tspan x="107.14" y="-1.36" font-style="oblique">z</tspan>
<tspan x="66.49" y="-6.67" style="font-size:9.72px">2</tspan>
<tspan x="85.62" y="-6.67" style="font-size:9.72px">4</tspan>
</text></g>
</g>
<defs><linearGradient id="cg" x1="0" y1="1" x2="0" y2="0">
<stop offset="0" stop-color="#ffffff"/>
<stop offset="0.03" stop-color="#f6f9f0"/>
<stop offset="0.07" stop-color="#eef2e1"/>
<stop offset="0.1" stop-color="#e4edcf"/>
<stop offset="0.13" stop-color="#dae7bd"/>
<stop offset="0.17" stop-color="#d0e2aa"/>
<stop offset="0.2" stop-color="#c0dc91"/>
<stop offset="0.23" stop-color="#b0d679"/>
<stop offset="0.27" stop-color="#a0d060"/>
<stop offset="0.3" stop-color="#8acc61"/>
<stop offset="0.33" stop-color="#74c861"/>
<stop offset="0.37" stop-color="#5ec462"/>
<stop offset="0.4" stop-color="#4cbb6c"/>
<stop offset="0.43" stop-color="#3ab376"/>
<stop offset="0.47" stop-color="#28aa80"/>
<stop offset="0.5" stop-color="#26a383"/>
<stop offset="0.53" stop-color="#249c87"/>
<stop offset="0.57" stop-color="#22958a"/>
<stop offset="0.6" stop-color="#238d8c"/>
<stop offset="0.63" stop-color="#26848d"/>
<stop offset="0.67" stop-color="#297b8d"/>
<stop offset="0.7" stop-color="#2c728e"/>
<stop offset="0.73" stop-color="#30688d"/>
<stop offset="0.77" stop-color="#355e8c"/>
<stop offset="0.8" stop-color="#3a548a"/>
<stop offset="0.83" stop-color="#3e4a89"/>
<stop offset="0.87" stop-color="#413f83"/>
<stop offset="0.9" stop-color="#44337e"/>
<stop offset="0.93" stop-color="#472878"/>
<stop offset="0.97" stop-color="#461466"/>
<stop offset="1" stop-color="#440154"/>
</linearGradient></defs>
<rect x="566.5" y="231.5" width="6" height="105" fill="url(#cg)" stroke="#000" stroke-width="1.111"/>
<path d="M581.3 336.5h4.861M581.3 319.5h4.861M581.3 301.5h4.861M581.3 284.5h4.861M581.3 266.5h4.861M581.3 249.5h4.861M581.3 231.5h4.861" stroke="#000" stroke-width="1.111"/>
<g id="cbtick" transform="translate(0.6 0)">
<text x="590.5" y="341.28" style="font-size:13.89px">0</text><text x="590.5" y="323.88" style="font-size:13.89px">5</text><text x="590.5" y="306.48" style="font-size:13.89px">10</text><text x="590.5" y="289.08" style="font-size:13.89px">15</text><text x="590.5" y="271.68" style="font-size:13.89px">20</text><text x="590.5" y="254.28" style="font-size:13.89px">25</text><text x="590.5" y="236.88" style="font-size:13.89px">30</text>
</g>
<g id="cblab" transform="translate(0.25 2.5)">
<text transform="translate(624.8 204) rotate(-90)" style="font-size:13.89px">[%]</text>
</g>
<rect x="116.04" y="386.88" width="399.03" height="11.52" fill="#0000ff"/>
<rect x="116.04" y="379.2" width="407.52" height="7.68" fill="#008000"/>
<path d="M96.5 398.5V379.5H544.5V398.5Z" fill="none" stroke="#000" stroke-width="1.111" stroke-linecap="square"/>
<path d="M116.5 398.5v4.861M167.5 398.5v4.861M218.5 398.5v4.861M269.5 398.5v4.861M320.5 398.5v4.861M371.5 398.5v4.861M422.5 398.5v4.861M473.5 398.5v4.861M524.5 398.5v4.861" stroke="#000" stroke-width="1.111"/>
<g id="covlab" transform="translate(-0.25 0.75)">
<text transform="translate(60.52 448.48) rotate(-30)" style="font-size:13.89px">12-27 00</text><text transform="translate(111.46 448.48) rotate(-30)" style="font-size:13.89px">12-27 03</text><text transform="translate(162.41 448.48) rotate(-30)" style="font-size:13.89px">12-27 06</text><text transform="translate(213.36 448.48) rotate(-30)" style="font-size:13.89px">12-27 09</text><text transform="translate(264.31 448.48) rotate(-30)" style="font-size:13.89px">12-27 12</text><text transform="translate(315.25 448.48) rotate(-30)" style="font-size:13.89px">12-27 15</text><text transform="translate(366.2 448.48) rotate(-30)" style="font-size:13.89px">12-27 18</text><text transform="translate(417.15 448.48) rotate(-30)" style="font-size:13.89px">12-27 21</text><text transform="translate(468.1 448.48) rotate(-30)" style="font-size:13.89px">12-28 00</text>
</g>
</svg></body></html>
